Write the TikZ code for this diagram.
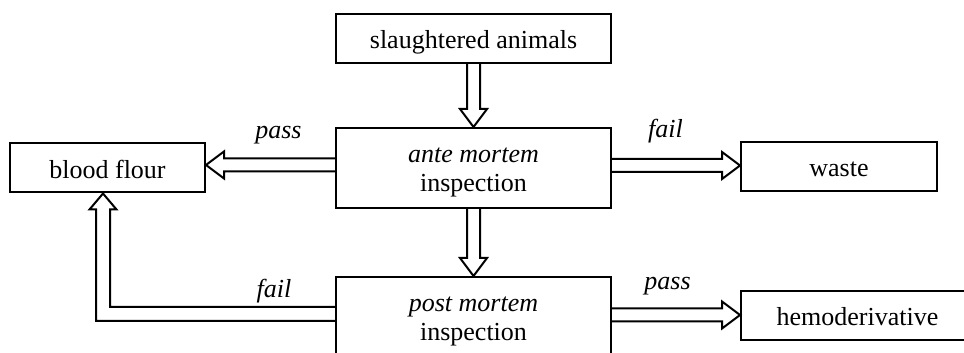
\documentclass[tikz,border=0pt]{standalone}
\usepackage{fontspec}
\setmainfont{Liberation Serif}
\usetikzlibrary{calc}

% hollow block arrow from #1 (open tail) to #2 (tip)
\newcommand\hollowarrow[2]{%
  \coordinate (hb) at ($(#2)!18pt!(#1)$);
  \draw[hol] ($(#1)!6.5pt!90:(#2)$) -- ($(hb)!6.5pt!90:(#2)$)
    -- ($(hb)!13.5pt!90:(#2)$) -- (#2) -- ($(hb)!13.5pt!-90:(#2)$)
    -- ($(hb)!6.5pt!-90:(#2)$) -- ($(#1)!6.5pt!-90:(#2)$);}

\begin{document}
\begin{tikzpicture}[x=1pt,y=1pt,
  box/.style={draw,line width=2pt,inner sep=0pt,minimum height=49pt,
    text height=21pt,text depth=0pt,font=\fontsize{26}{29}\selectfont},
  tall/.style={box,minimum height=80pt,align=center,text height=48pt,text depth=0pt},
  lab/.style={font=\fontsize{26}{29}\selectfont\itshape,anchor=base,inner sep=0pt},
  hol/.style={draw,line width=2pt,line join=miter}]
\useasboundingbox (0,0) rectangle (964,353);

% boxes
\node[box,minimum width=275pt] (sa) at (473.5,314.5) {slaughtered animals};
\node[tall,minimum width=275pt] (am) at (473.5,185) {\textit{ante mortem}\\inspection};
\node[tall,minimum width=275pt] (pm) at (473.5,36) {\textit{post mortem}\\inspection};
\node[box,minimum width=195pt] (bf) at (107.5,185) {blood flour};
\node[box,minimum width=196pt] (ws) at (839,186.5) {waste};
\node[box,minimum width=233pt] (hd) at (857.5,37.5) {hemoderivative};

% vertical flow
\hollowarrow{sa.south}{am.north}
\hollowarrow{am.south}{pm.north}

% ante mortem outcomes
\coordinate (a1) at ($(am.west)+(0,3)$);
\coordinate (a2) at (a1 -| bf.east);
\hollowarrow{a1}{a2}
\coordinate (b1) at ($(am.east)+(0,2.5)$);
\coordinate (b2) at (b1 -| ws.west);
\hollowarrow{b1}{b2}

% post mortem outcomes
\coordinate (c1) at ($(pm.east)+(0,2)$);
\coordinate (c2) at (c1 -| hd.west);
\hollowarrow{c1}{c2}

\coordinate (k) at (103,39);
\coordinate (t) at (k |- bf.south);
\coordinate (hk) at ($(t)+(0,-16)$);
\draw[hol] ($(k -| pm.west)+(0,7)$) -- ($(k)+(7,7)$) -- ($(hk)+(7,0)$)
  -- ($(hk)+(13.5,0)$) -- (t) -- ($(hk)+(-13.5,0)$) -- ($(hk)+(-7,0)$)
  -- ($(k)+(-7,-7)$) -- ($(k -| pm.west)+(0,-7)$);

% labels
\node[lab] (l1) at (278.5,214) {pass};
\node[lab] (l2) at (665.5,215) {fail};
\node[lab] (l3) at (274,55) {fail};
\node[lab] (l4) at (667.5,63) {pass};
\end{tikzpicture}
\end{document}
